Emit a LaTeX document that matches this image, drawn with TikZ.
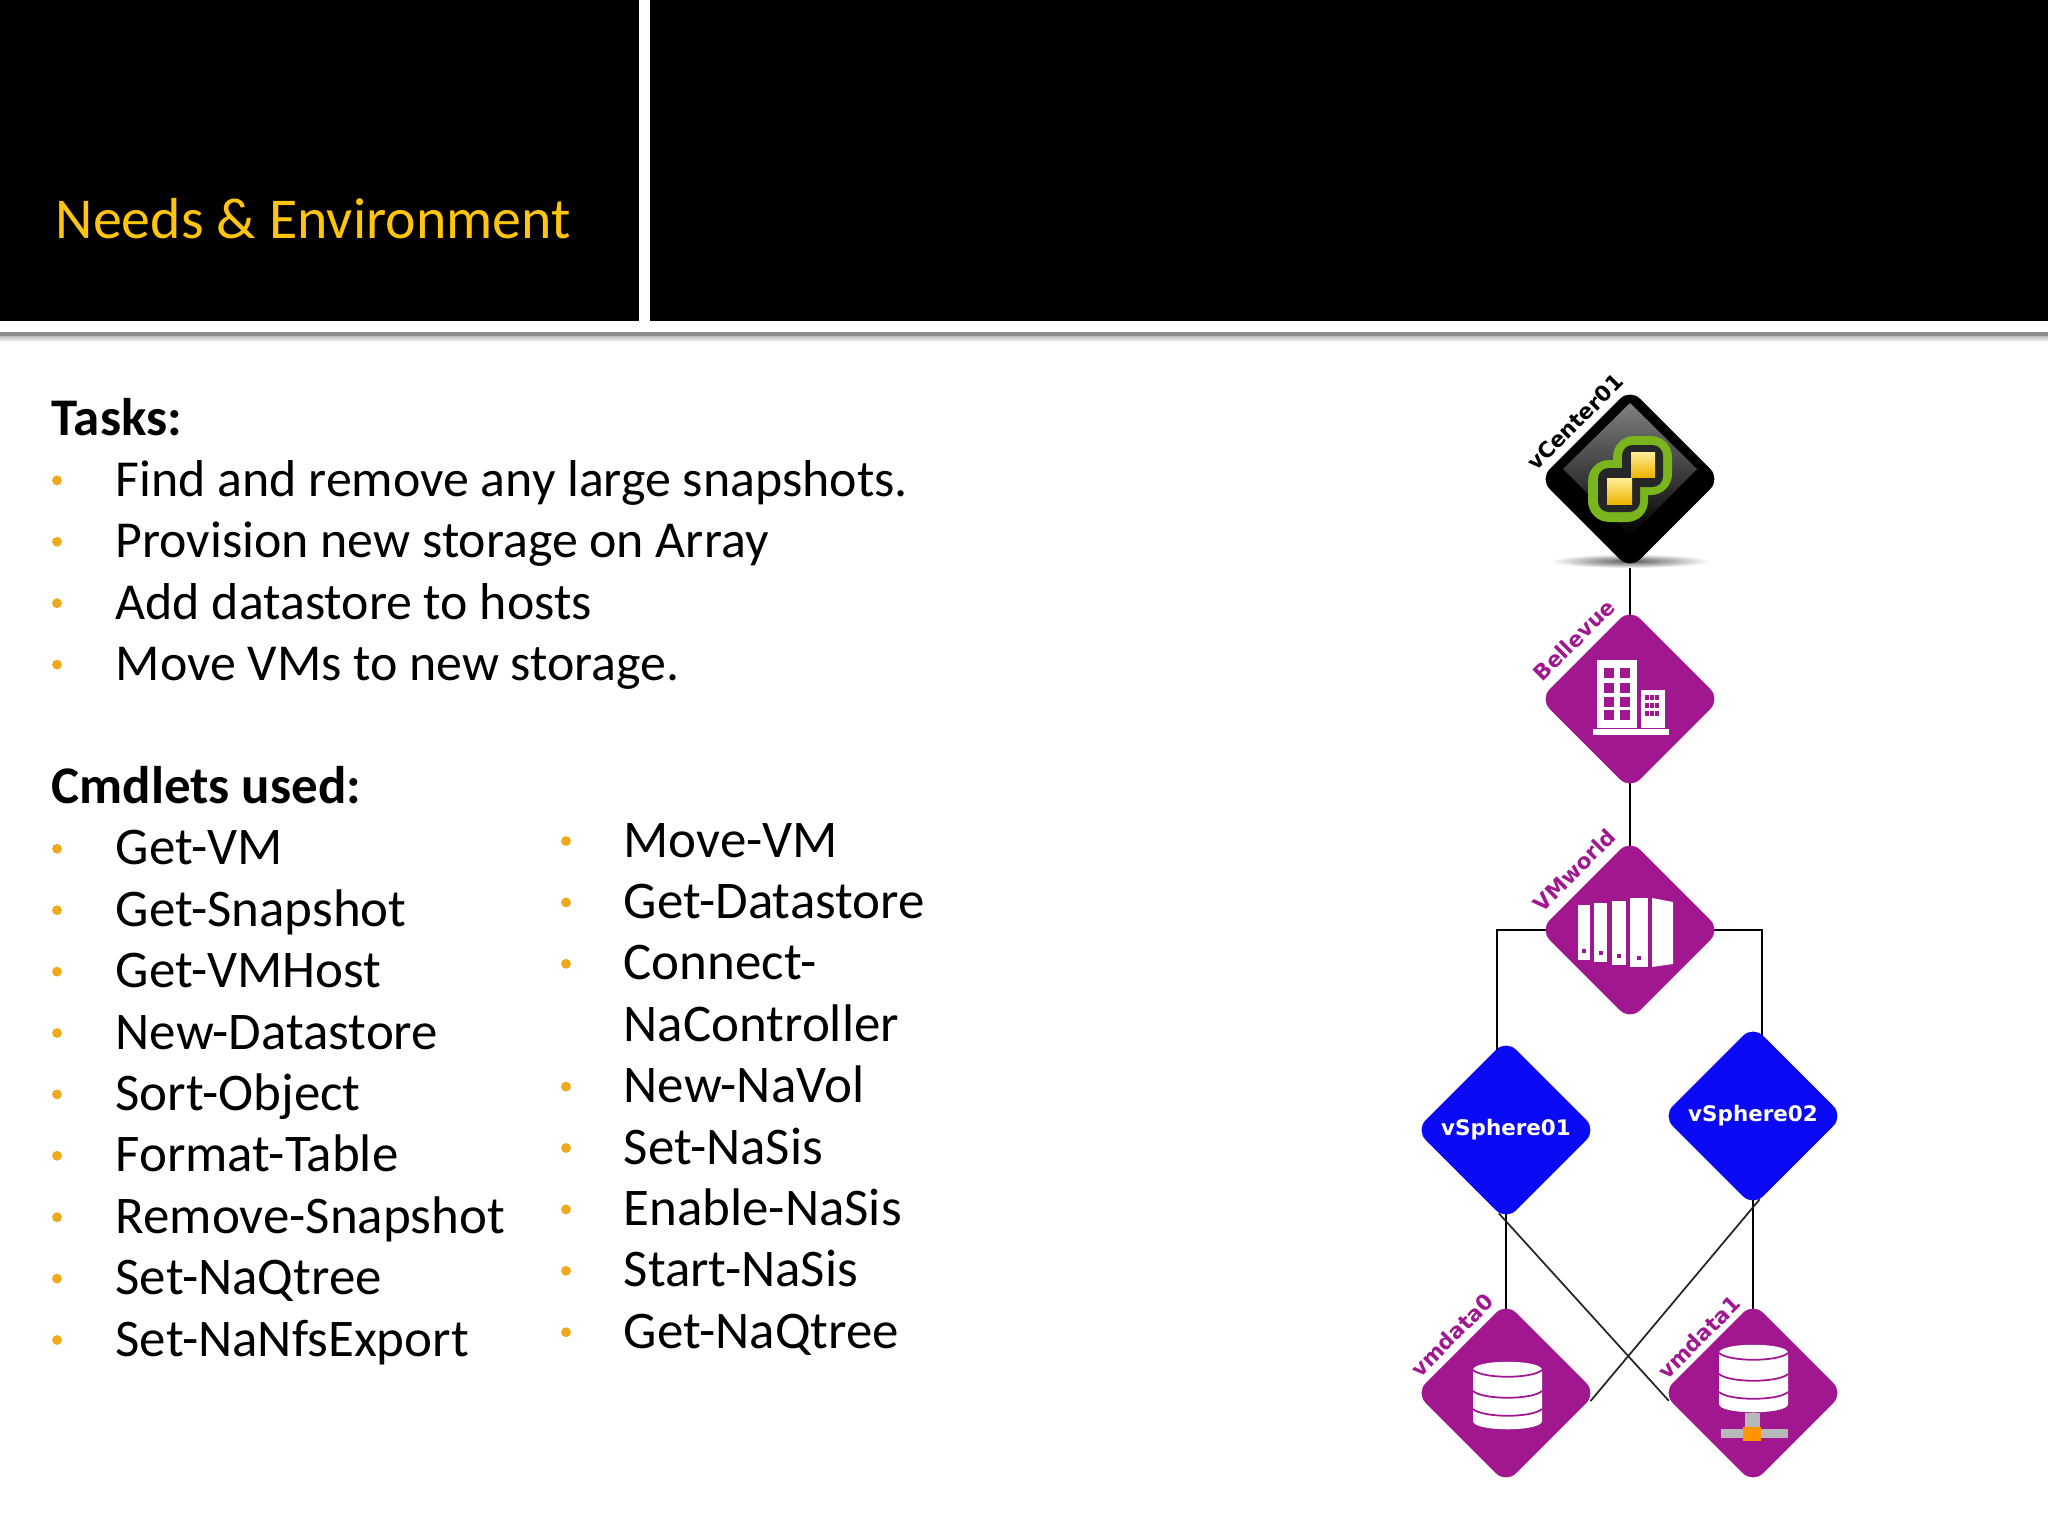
\documentclass[tikz,border=0pt]{standalone}
\usepackage{fontspec}
\setmainfont{Carlito}
\newfontfamily\labelfont{DejaVu Sans}
\usetikzlibrary{shapes.geometric,backgrounds}
\definecolor{titleyellow}{HTML}{FFC40C}
\definecolor{bulletorange}{HTML}{EEA91C}
\definecolor{sitepurple}{HTML}{A0178F}
\definecolor{hostblue}{HTML}{0A0AF5}
\definecolor{vcgreen}{HTML}{7AB51D}
\definecolor{chiplight}{HTML}{FFEE99}
\definecolor{chipdeep}{HTML}{EDB400}
\tikzset{
  hub/.style={diamond, aspect=1, minimum size=1.81cm, inner sep=0pt, rounded corners=4pt, fill=#1},
  tag/.style={font=\labelfont\bfseries\fontsize{6.1}{7}\selectfont, rotate=45, inner sep=0pt, text=#1},
  bodyline/.style={anchor=base west, inner sep=0pt, font=\fontsize{15.05}{17}\selectfont},
  taskline/.style={bodyline, font=\fontsize{14.75}{17}\selectfont},
  bodyhead/.style={bodyline, font=\fontsize{15.05}{17}\selectfont\bfseries},
  dot/.style={circle, fill=bulletorange, minimum size=2.8pt, inner sep=0pt},
  link/.style={line width=0.8pt, shorten <=-3pt, shorten >=-3pt},
  crosslink/.style={line width=0.5pt, black!85, shorten <=-3pt, shorten >=-3pt}
}
\begin{document}
\begin{tikzpicture}[x=0.01cm,y=-0.01cm]
\useasboundingbox (0,0) rectangle (2048,1536);
\fill[black] (0,0) rectangle (639,321);
\fill[black] (650,0) rectangle (2048,321);
\fill[black!45] (0,332) rectangle (2048,336);
\shade[top color=black!25, bottom color=white] (0,336) rectangle (2048,342);
\node[anchor=base west, inner sep=0pt, text=titleyellow, font=\fontsize{16.45}{20}\selectfont] (title) at (55,238) {Needs \& Environment};
\node[bodyhead] (tasks) at (51,435) {Tasks:};
\foreach \i/\txt in {1/Find and remove any large snapshots.,2/Provision new storage on Array,3/Add datastore to hosts,4/Move VMs to new storage.}{
  \node[taskline] (task\i) at (115,{435+61.4*\i}) {\txt};
  \node[dot] (taskdot\i) at (57,{419+61.4*\i}) {};
}
\node[bodyhead] (cmdlets) at (51,803.4) {Cmdlets used:};
\foreach \i/\txt in {7/Get-VM,8/Get-Snapshot,9/Get-VMHost,10/New-Datastore,11/Sort-Object,12/Format-Table,13/Remove-Snapshot,14/Set-NaQtree,15/Set-NaNfsExport}{
  \node[bodyline] (left\i) at (115,{435+61.4*\i}) {\txt};
  \node[dot] (leftdot\i) at (57,{419+61.4*\i}) {};
}
\foreach \i/\txt in {0/Move-VM,1/Get-Datastore,2/Connect-,3/NaController,4/New-NaVol,5/Set-NaSis,6/Enable-NaSis,7/Start-NaSis,8/Get-NaQtree}{
  \node[bodyline] (right\i) at (623,{857+61.4*\i}) {\txt};
}
\foreach \i in {0,1,2,4,5,6,7,8}{
  \node[dot] (rightdot\i) at (566,{841+61.4*\i}) {};
}
\shade[inner color=black!65, outer color=white] (1630,561) ellipse (80 and 7);
\node[hub=black] (vcenter) at (1630,479) {};
\node[hub=sitepurple] (bellevue) at (1630,699) {};
\node[hub=sitepurple] (vmworld) at (1630,930) {};
\node[hub=hostblue, text=white, font=\labelfont\bfseries\fontsize{6.1}{7}\selectfont] (vsphere01) at (1506,1130) {vSphere01};
\node[hub=hostblue, text=white, font=\labelfont\bfseries\fontsize{6.1}{7}\selectfont] (vsphere02) at (1753,1116) {vSphere02};
\node[hub=sitepurple] (vmdata0) at (1506,1393) {};
\node[hub=sitepurple] (vmdata1) at (1753,1393) {};
\node[tag=black] (vcentertag) at (1575,422) {vCenter01};
\node[tag=sitepurple] (bellevuetag) at (1574,640) {Bellevue};
\node[tag=sitepurple] (vmworldtag) at (1574,870) {VMworld};
\node[tag=sitepurple] (vmdata0tag) at (1452,1335) {vmdata0};
\node[tag=sitepurple] (vmdata1tag) at (1699,1337) {vmdata1};
\coordinate (elbowleft) at (1497,1070);
\coordinate (elbowright) at (1762,1060);
\begin{scope}[on background layer]
\draw[link] (vcenter.south) -- (bellevue.north);
\draw[link] (bellevue.south) -- (vmworld.north);
\draw[link] (vmworld.west) -| (elbowleft);
\draw[link] (vmworld.east) -| (elbowright);
\draw[link] (vsphere01.south) -- (vmdata0.north);
\draw[link] (vsphere02.south) -- (vmdata1.north);
\draw[crosslink] (vsphere01.south) -- (vmdata1.west);
\draw[crosslink] (vsphere02.south) -- (vmdata0.east);
\end{scope}
\shade[top color=black!50, bottom color=black] (1630,403) -- (1697,469) -- (1630,536) -- (1563,469) -- cycle;
\fill[vcgreen, rounded corners=6pt] (1613,436) rectangle (1672,495);
\fill[vcgreen, rounded corners=6pt] (1588,460) rectangle (1648,522);
\fill[black!85, rounded corners=3pt] (1622,445) rectangle (1663,487);
\fill[black!85, rounded corners=3pt] (1598,468) rectangle (1640,512);
\shade[top color=chiplight, bottom color=chipdeep] (1631,452) rectangle (1655,477);
\shade[top color=chiplight, bottom color=chipdeep] (1607,478) rectangle (1632,504);
\fill[white] (1597,660) rectangle (1637,728);
\fill[white] (1641,690) rectangle (1665,728);
\fill[white] (1593,729) rectangle (1669,735);
\foreach \wx in {1604,1620}{
  \foreach \wy in {668,683,697,710}{
    \fill[sitepurple] (\wx,\wy) rectangle ++(10,10);
  }
}
\foreach \wx in {1645,1650,1655}{
  \foreach \wy in {695,703,711}{
    \fill[sitepurple] (\wx,\wy) rectangle ++(3.5,5);
  }
}
\foreach \tx/\ty/\tw/\th in {1578/905/12/55,1594/903/13/59,1612/901/14/64,1630/898/18/69}{
  \fill[white] (\tx,\ty) rectangle ++(\tw,\th);
  \fill[sitepurple] ({\tx+0.5*\tw-2},{\ty+\th-11}) rectangle ++(4,4);
}
\fill[white] (1652,898) -- (1673,902) -- (1673,964) -- (1652,967) -- cycle;
\foreach \dbx/\dby in {1473/1362,1719/1345}{
  \begin{scope}[shift={(\dbx,\dby)}]
  \fill[white] (0,8) .. controls (0,-3) and (69,-3) .. (69,8) -- (69,59) .. controls (69,70) and (0,70) .. (0,59) -- cycle;
  \foreach \dy in {8,29,47}{
    \draw[sitepurple, line width=0.5pt] (0,\dy) .. controls (10,{\dy+9}) and (59,{\dy+9}) .. (69,\dy);
  }
  \end{scope}
}
\fill[black!28] (1745,1413) rectangle (1760,1430);
\fill[black!28] (1721,1429) rectangle (1788,1438);
\fill[orange!85!yellow] (1743,1427) rectangle (1761,1441);
\end{tikzpicture}
\end{document}
